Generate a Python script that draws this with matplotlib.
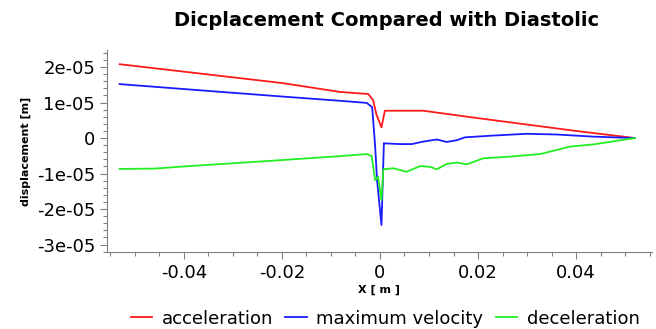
import numpy as np
import matplotlib
matplotlib.use("Agg")
import matplotlib.pyplot as plt
from matplotlib.ticker import MultipleLocator, FuncFormatter

# displacement values in units of 1e-5 m
acc_x = [-0.0531, -0.04, -0.02, -0.0082, -0.0024, -0.0014, -0.0007, 0.0003, 0.001, 0.0088, 0.02, 0.03, 0.04, 0.052]
acc_y = [2.08, 1.87, 1.55, 1.30, 1.24, 1.07, 0.65, 0.30, 0.77, 0.77, 0.56, 0.38, 0.20, 0.0]

vel_x = [-0.0531, -0.04, -0.02, -0.0082, -0.0027, -0.0016, -0.001, -0.0006, 0.0003, 0.0008, 0.001,
         0.0041, 0.0065, 0.0088, 0.0116, 0.0136, 0.0157, 0.0173, 0.0231, 0.0299, 0.0361, 0.0435, 0.052]
vel_y = [1.52, 1.38, 1.17, 1.05, 0.99, 0.87, -0.20, -1.18, -2.45, -0.14, -0.15,
         -0.17, -0.17, -0.10, -0.04, -0.11, -0.06, 0.02, 0.07, 0.12, 0.10, 0.04, 0.0]

dec_x = [-0.0531, -0.046, -0.04, -0.02, -0.0082, -0.0027, -0.0017, -0.001, -0.0004, 0.0003, 0.0007,
         0.0027, 0.0054, 0.0082, 0.0102, 0.0116, 0.0136, 0.0157, 0.0177, 0.0211, 0.0259, 0.0327,
         0.0388, 0.0435, 0.052]
dec_y = [-0.87, -0.86, -0.80, -0.62, -0.51, -0.45, -0.51, -1.18, -1.09, -1.75, -0.88,
         -0.85, -0.95, -0.79, -0.81, -0.88, -0.73, -0.69, -0.74, -0.57, -0.53, -0.45,
         -0.24, -0.18, 0.0]

plt.rcParams['font.family'] = ['DejaVu Sans']

fig = plt.figure(figsize=(6.56, 3.29), dpi=100)
ax = fig.add_axes([0.163, 0.234, 0.831, 0.614])

lw = 1.3
ax.plot(acc_x, np.array(acc_y) * 1e-5, color='#ff1a1a', lw=lw, label='acceleration')
ax.plot(vel_x, np.array(vel_y) * 1e-5, color='#1a1aff', lw=lw, label='maximum velocity')
ax.plot(dec_x, np.array(dec_y) * 1e-5, color='#22ee22', lw=lw, label='deceleration')

ax.set_xlim(-0.0557, 0.0555)
ax.set_ylim(-3.21e-5, 2.48e-5)

ax.xaxis.set_major_locator(MultipleLocator(0.02))
ax.xaxis.set_minor_locator(MultipleLocator(0.005))
ax.yaxis.set_major_locator(MultipleLocator(1e-5))
ax.yaxis.set_minor_locator(MultipleLocator(2e-6))


def xfmt(v, pos):
    if abs(v) < 1e-9:
        return '0'
    return f'{v:g}'


def yfmt(v, pos):
    if abs(v) < 1e-12:
        return '0'
    return f'{v:.0e}'


ax.xaxis.set_major_formatter(FuncFormatter(xfmt))
ax.yaxis.set_major_formatter(FuncFormatter(yfmt))

for s in ['top', 'right']:
    ax.spines[s].set_visible(False)
for s in ['left', 'bottom']:
    ax.spines[s].set_color('#808080')
    ax.spines[s].set_linewidth(0.8)

ax.tick_params(which='both', colors='#808080', labelcolor='black', labelsize=13, width=0.8)
ax.tick_params(which='major', length=5)
ax.tick_params(which='minor', length=3)

ax.set_title('Dicplacement Compared with Diastolic', fontsize=14, fontweight='bold', pad=17, x=0.513)
ax.set_ylabel('displacement [m]', fontsize=8, fontweight='bold', labelpad=4)
ax.set_xlabel('X [ m ]', fontsize=8, fontweight='bold', labelpad=2)

fig.legend(loc='lower center', bbox_to_anchor=(0.587, -0.045), ncol=3, frameon=False,
           fontsize=13, handlelength=1.2, handletextpad=0.5, columnspacing=0.7)

fig.savefig('out.png', dpi=100)
